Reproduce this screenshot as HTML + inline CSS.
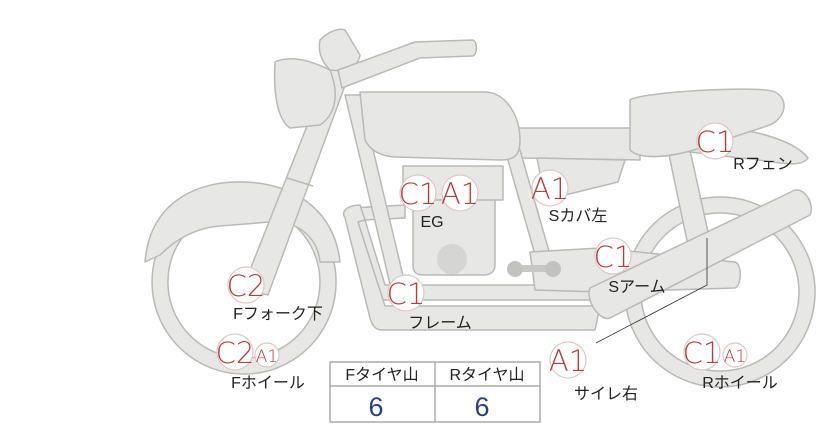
<!DOCTYPE html>
<html><head><meta charset="utf-8">
<style>
html,body{margin:0;padding:0;background:#fff;}
svg{display:block;}
.p{fill:#e7e7e5;stroke:#b9b9b7;stroke-width:1.5;stroke-linejoin:round;}
.b{fill:#fff;stroke:#dcc8c8;stroke-width:1.2;}
.bt{fill:#b2403e;font-family:"DejaVu Sans",sans-serif;font-weight:200;text-anchor:middle;}
.lb{fill:#222;font-family:"Liberation Sans","Noto Sans CJK JP",sans-serif;font-size:16px;text-anchor:middle;}
</style></head><body>
<svg width="822" height="425" viewBox="0 0 822 425" xmlns="http://www.w3.org/2000/svg">
<path class="p" fill-rule="evenodd" d="M720,197 a95,95 0 1,0 0.1,0 Z M720,213 a79,79 0 1,1 -0.1,0 Z"/>
<path class="p" fill-rule="evenodd" d="M244,190 a92,92 0 1,0 0.1,0 Z M244,206 a76,76 0 1,1 -0.1,0 Z"/>
<path class="p" d="M145,262 C150,200 200,180 245,182 C300,184 335,215 340,262 L320,262 C318,240 300,220 270,222 L220,226 C195,228 175,240 160,255 Z"/>
<path class="p" d="M668,150 L690,150 L712,250 L690,255 Z"/>
<path class="p" d="M690,125 C730,125 790,135 808,158 C800,170 770,160 740,158 L690,152 Z"/>
<path class="p" d="M512,128 L640,128 L640,160 L518,158 Z"/>
<path class="p" d="M630,100 C640,92 760,85 775,92 C790,100 785,118 770,125 L700,148 C670,158 640,160 630,150 Z"/>
<path class="p" d="M537,158 L625,160 L618,182 L545,200 Z"/>
<path class="p" d="M505,150 L520,150 L555,272 L540,272 Z"/>
<path class="p" d="M352,208 L405,205 L405,218 L365,220 L385,285 L600,285 L600,300 L375,300 Z"/>
<path class="p" d="M345,218 C340,210 350,205 360,205 L365,220 L358,222 L385,306 L600,306 L595,330 L382,330 C375,330 372,325 370,318 Z"/>
<path class="p" d="M345,95 L360,95 L410,305 L395,305 Z"/>
<path class="p" d="M413,198 L495,198 L495,265 C495,272 490,275 483,275 L423,275 C416,275 413,272 413,265 Z"/>
<circle cx="452" cy="259" r="15" fill="#d5d5d3"/>
<path class="p" d="M403,166 L503,166 L503,200 L403,200 Z"/>
<path class="p" d="M530,252 L600,248 L735,262 C742,264 742,285 735,288 L600,292 L535,290 Z"/>
<path class="p" d="M590,288 L795,190 C805,188 815,205 810,215 L610,318 C600,322 585,300 590,288 Z"/>
<rect x="513" y="265" width="45" height="7" rx="3" fill="#c7c7c5"/>
<circle cx="515" cy="269" r="8" fill="#c2c2c0"/>
<circle cx="553" cy="269" r="8" fill="#c2c2c0"/>
<path class="p" d="M360,92 L485,92 C505,92 520,115 520,140 C520,155 515,160 500,160 L395,157 C380,156 370,150 365,140 Z"/>
<path class="p" d="M330,68 L350,72 L268,295 L242,290 Z"/>
<path class="p" d="M287,178 L313,186" fill="none"/>
<path class="p" d="M275,62 C290,55 310,60 330,70 C340,95 335,115 320,125 L290,128 C278,120 273,95 275,62 Z"/>
<path class="p" d="M320,40 C330,30 340,28 345,30 L360,55 C358,68 345,72 330,70 C320,60 318,50 320,40 Z"/>
<path class="p" d="M338,70 L415,42 L472,40 C478,40 478,56 472,56 L420,58 L342,88 Z"/>
<path d="M596,343 L707,285 L707,238" fill="none" stroke="#333" stroke-width="0.8"/>
<g>
<circle class="b" cx="418" cy="193" r="18"/><text class="bt" x="418" y="204" font-size="29">C1</text>
<circle class="b" cx="460" cy="193" r="18"/><text class="bt" x="460" y="204" font-size="29">A1</text>
<circle class="b" cx="550" cy="188" r="18"/><text class="bt" x="550" y="199" font-size="29">A1</text>
<circle class="b" cx="715" cy="141" r="18"/><text class="bt" x="715" y="152" font-size="29">C1</text>
<circle class="b" cx="613" cy="256" r="18"/><text class="bt" x="613" y="267" font-size="29">C1</text>
<circle class="b" cx="246" cy="285" r="18"/><text class="bt" x="246" y="296" font-size="29">C2</text>
<circle class="b" cx="406" cy="293" r="18"/><text class="bt" x="406" y="304" font-size="29">C1</text>
<circle class="b" cx="235" cy="352" r="18"/><text class="bt" x="235" y="363" font-size="29">C2</text>
<circle class="b" cx="267" cy="355" r="12"/><text class="bt" x="267" y="362" font-size="17">A1</text>
<circle class="b" cx="702" cy="352" r="18"/><text class="bt" x="702" y="363" font-size="29">C1</text>
<circle class="b" cx="735" cy="355" r="12"/><text class="bt" x="735" y="362" font-size="17">A1</text>
<circle class="b" cx="568" cy="360" r="18"/><text class="bt" x="568" y="371" font-size="29">A1</text>
</g>
<text class="lb" x="432" y="227">EG</text>
<text class="lb" x="578" y="221">Sカバ左</text>
<text class="lb" x="763" y="169">Rフェン</text>
<text class="lb" x="637" y="292">Sアーム</text>
<text class="lb" x="278" y="319">Fフォーク下</text>
<text class="lb" x="440" y="328">フレーム</text>
<text class="lb" x="268" y="388">Fホイール</text>
<text class="lb" x="606" y="399">サイレ右</text>
<text class="lb" x="740" y="388">Rホイール</text>
<rect x="330" y="362" width="210" height="60" fill="#fff" stroke="#aaa" stroke-width="1.5"/>
<line x1="330" y1="386" x2="540" y2="386" stroke="#aaa" stroke-width="1.5"/>
<line x1="435" y1="362" x2="435" y2="422" stroke="#aaa" stroke-width="1.5"/>
<text class="lb" x="382" y="380">Fタイヤ山</text>
<text class="lb" x="487" y="380">Rタイヤ山</text>
<text x="376" y="416" font-family="Liberation Sans,sans-serif" font-size="27" fill="#2c3f86" text-anchor="middle">6</text>
<text x="482" y="416" font-family="Liberation Sans,sans-serif" font-size="27" fill="#2c3f86" text-anchor="middle">6</text>
</svg>
</body></html>
